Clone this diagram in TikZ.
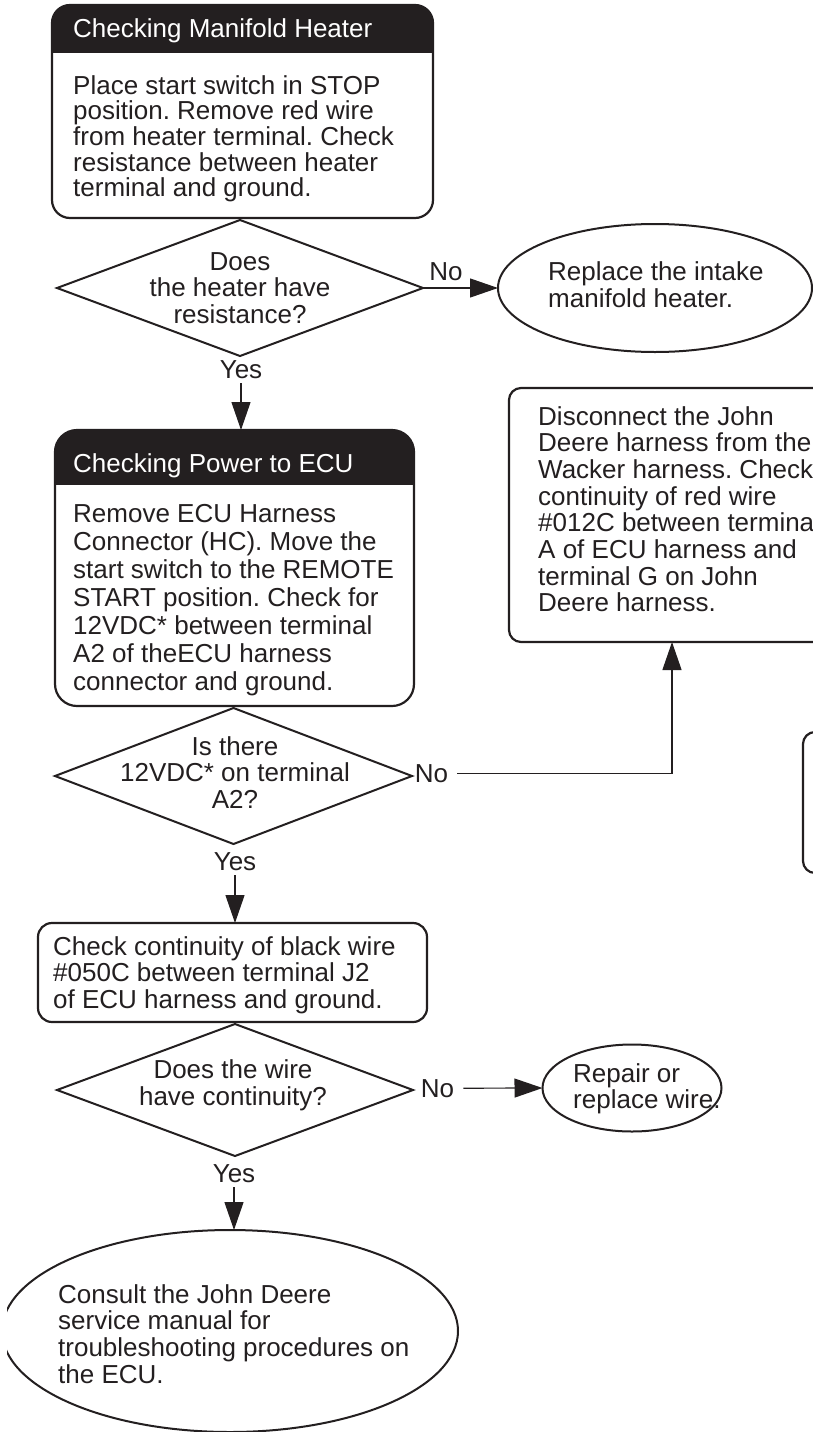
\documentclass[tikz,border=0pt]{standalone}
\usepackage{fontspec}
\setmainfont{Liberation Sans}
\usetikzlibrary{arrows.meta, positioning, shapes.geometric}
\definecolor{ink}{HTML}{231F20}
\frenchspacing
\newcommand{\bodyfont}{\fontsize{26}{26.6}\selectfont}
\newcommand{\ltext}[2][26.6pt]{\parbox[t]{16cm}{\baselineskip=#1\relax\raggedright #2}}
\newcommand{\ctext}[2][26.5pt]{\parbox[t]{10cm}{\baselineskip=#1\relax\centering #2}}

\begin{document}
\begin{tikzpicture}[x=1pt, y=-1pt,
  chkbox/.style={draw=ink, line width=2.2pt, rounded corners=18pt, inner sep=0pt, outer sep=0pt},
  qdia/.style={draw=ink, diamond, line width=2pt, inner sep=0pt, outer sep=0pt},
  endell/.style={draw=ink, ellipse, line width=2pt, inner sep=0pt, outer sep=0pt},
  txt/.style={font=\bodyfont, text=ink, inner sep=0pt, anchor=base west},
  ctxt/.style={font=\bodyfont, text=ink, inner sep=0pt, anchor=base},
  lbl/.style={font=\bodyfont, text=ink, inner xsep=9pt, inner ysep=5pt, anchor=base},
  arr/.style={draw=ink, line width=1.2pt, -{Triangle[length=28pt,width=19pt]}}]

  \useasboundingbox (0,0) rectangle (813,1432);
  \clip (7,0) rectangle (813,1432);

  % Checking manifold heater
  \node[chkbox, minimum width=381pt, minimum height=213pt] (heat) at (242.5,111.5) {};
  \begin{scope}
    \clip[rounded corners=18pt] (heat.south west) rectangle (heat.north east);
    \fill[ink] (heat.north west) rectangle ([yshift=-48pt]heat.north east);
  \end{scope}
  \node[txt, text=white] (heathd) at (73,37) {Checking Manifold Heater};
  \node[txt] (heattx) at (73,94) {\ltext[25.7pt]{Place start switch in STOP\\position. Remove red wire\\from heater terminal. Check\\resistance between heater\\terminal and ground.}};

  % First question
  \node[qdia, minimum width=366pt, minimum height=136pt] (q1) at (240,288) {};
  \node[ctxt] (q1tx) at (240,270) {\ctext{Does\\the heater have\\resistance?}};
  \node[lbl] (no1) at (446,280) {No};
  \node[lbl] (yes1) at (241,378) {Yes};

  % Replace heater
  \node[endell, minimum width=314pt, minimum height=128pt] (intake) at (655,288) {};
  \node[txt] (intaketx) at (548,280) {\ltext[27pt]{Replace the intake\\manifold heater.}};
  \draw[arr] (q1.east) -- (intake.west);

  % Checking power to ECU
  \node[chkbox, rounded corners=22pt, minimum width=359pt, minimum height=276pt] (pwr) at (234.5,568) {};
  \begin{scope}
    \clip[rounded corners=22pt] (pwr.south west) rectangle (pwr.north east);
    \fill[ink] (pwr.north west) rectangle ([yshift=-55pt]pwr.north east);
  \end{scope}
  \node[txt, text=white] (pwrhd) at (73,472) {Checking Power to ECU};
  \node[txt] (pwrtx) at (73,522) {\ltext[28pt]{Remove ECU Harness\\Connector (HC). Move the\\start switch to the REMOTE\\START position. Check for\\12VDC* between terminal\\A2 of theECU harness\\connector and ground.}};
  \draw[arr] (yes1.south) -- (yes1.south |- pwr.north);

  % Disconnect harness
  \node[chkbox, rounded corners=12pt, minimum width=351pt, minimum height=254pt] (harn) at (684.5,515) {};
  \node[txt] (harntx) at (538,425) {\ltext[26.7pt]{Disconnect the John\\Deere harness from the\\Wacker harness. Check\\continuity of red wire\\\#012C between terminal\\A of ECU harness and\\terminal G on John\\Deere harness.}};

  % Box cut off at the right
  \node[chkbox, rounded corners=12pt, minimum width=197pt, minimum height=141pt] (side) at (901.5,802.5) {};

  % Second question
  \node[qdia, minimum width=357pt, minimum height=136pt] (q2) at (233.5,776) {};
  \node[ctxt] (q2tx) at (235,755) {\ctext{Is there\\12VDC* on terminal\\A2?}};
  \node[lbl] (no2) at (431.5,782) {No};
  \node[lbl] (yes2) at (235,870) {Yes};
  \draw[arr] (no2.east) -| ([xshift=163pt]harn.south west);

  % Ground wire check
  \node[chkbox, rounded corners=14pt, minimum width=389pt, minimum height=99pt] (wire) at (232.5,972.5) {};
  \node[txt] (wiretx) at (53,955) {\ltext[26.5pt]{Check continuity of black wire\\\#050C between terminal J2\\of ECU harness and ground.}};
  \draw[arr] (yes2.south) -- (yes2.south |- wire.north);

  % Third question
  \node[qdia, minimum width=356pt, minimum height=132pt] (q3) at (235,1090) {};
  \node[ctxt] (q3tx) at (233,1078) {\ctext[27pt]{Does the wire\\have continuity?}};
  \node[lbl] (no3) at (437.5,1097) {No};
  \node[lbl] (yes3) at (234,1182) {Yes};

  % Repair wire
  \node[endell, minimum width=179pt, minimum height=87pt] (repair) at (632,1088) {};
  \node[txt] (repairtx) at (573,1082) {\ltext{Repair or\\replace wire.}};
  \draw[arr] (no3.east) -- (repair.west);

  % Service manual
  \node[endell, minimum width=456pt, minimum height=202pt] (manual) at (230,1331) {};
  \node[txt] (manualtx) at (58,1303) {\ltext[26.7pt]{Consult the John Deere\\service manual for\\troubleshooting procedures on\\the ECU.}};
  \draw[arr] (yes3.south) -- (yes3.south |- manual.north);

\end{tikzpicture}
\end{document}
